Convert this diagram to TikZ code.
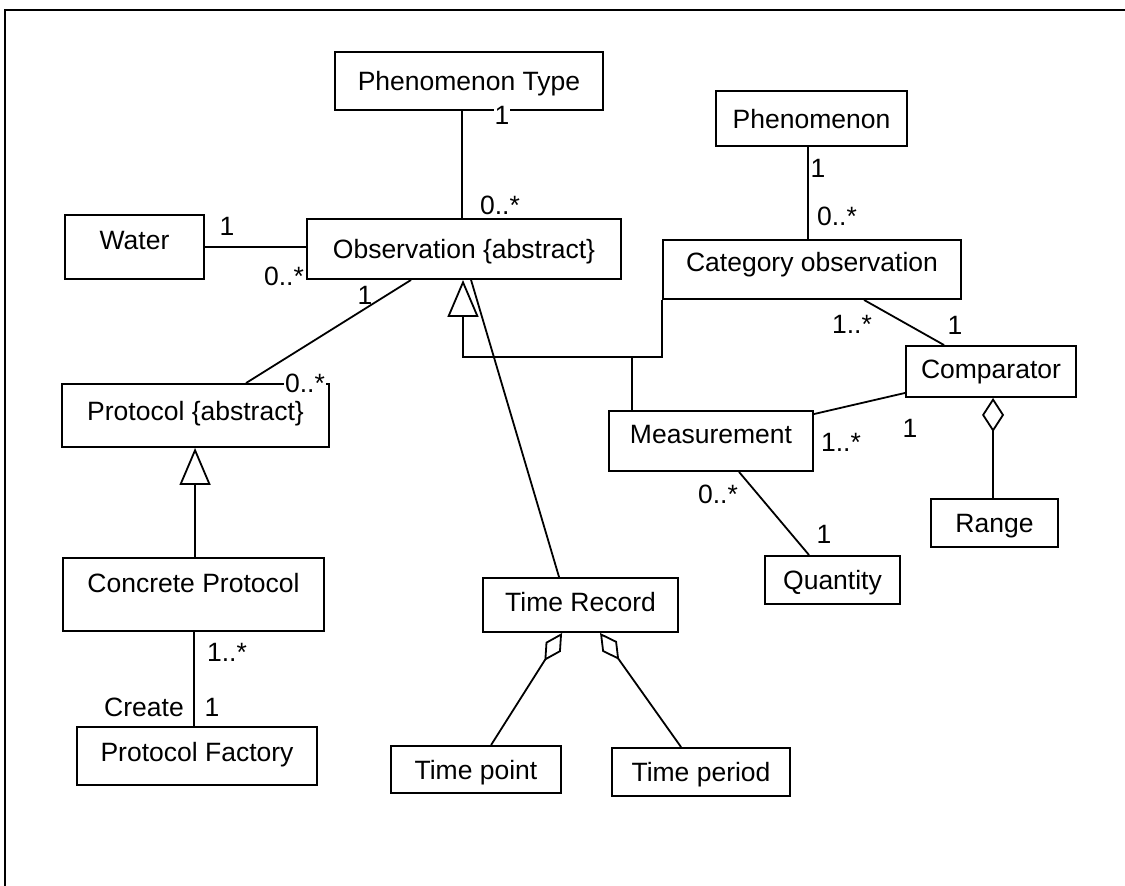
\documentclass[tikz,border=0pt]{standalone}
\usepackage{fontspec}
\setmainfont{Liberation Sans}
\usetikzlibrary{arrows.meta,calc}

\begin{document}
\begin{tikzpicture}[x=1pt,y=-1pt,
  font=\fontsize{26.5}{30}\selectfont,
  umlbox/.style={draw, line width=1.9pt, inner sep=0pt, text height=19pt, text depth=0pt},
  mult/.style={inner sep=1pt, text height=19pt, text depth=0pt},
  assoc/.style={line width=1.8pt},
  gen/.style={line width=1.8pt, -{Triangle[open, length=37pt, width=31pt]}},
  agg/.style={line width=1.8pt, {Diamond[open, length=34pt, width=22pt]}-},
  aggs/.style={line width=1.8pt, {Diamond[open, length=33pt, width=18pt]}-}]

\useasboundingbox (0,0) rectangle (1125,886);

% frame
\draw[line width=2.5pt] (5,886) -- (5,10) -- (1125,10);

% classes
\node[umlbox, minimum width=268pt, minimum height=58pt] (ptype) at (469,81) {Phenomenon Type};
\node[umlbox, minimum width=139pt, minimum height=64pt, text depth=14pt] (water) at (134.5,247) {Water};
\node[umlbox, minimum width=314pt, minimum height=60pt] (obs) at (464,249) {Observation \{abstract\}};
\node[umlbox, minimum width=191pt, minimum height=55pt] (phen) at (811.5,118.5) {Phenomenon};
\node[umlbox, minimum width=298pt, minimum height=59pt, text depth=15pt] (cat) at (812,269.5) {Category observation};
\node[umlbox, minimum width=267pt, minimum height=63pt, text depth=10pt] (proto) at (195.5,415.5) {Protocol \{abstract\}};
\node[umlbox, minimum width=261pt, minimum height=73pt, text depth=23pt] (conc) at (193.5,594.5) {Concrete Protocol};
\node[umlbox, minimum width=240pt, minimum height=58pt, text depth=8pt] (fact) at (197,756) {Protocol Factory};
\node[umlbox, minimum width=195pt, minimum height=54pt, text depth=6pt] (trec) at (580.5,605) {Time Record};
\node[umlbox, minimum width=170pt, minimum height=47pt] (tpoint) at (476,769.5) {Time point};
\node[umlbox, minimum width=178pt, minimum height=48pt] (tperiod) at (701,772) {Time period};
\node[umlbox, minimum width=204pt, minimum height=60pt, text depth=15pt] (meas) at (711,441) {Measurement};
\node[umlbox, minimum width=170pt, minimum height=51pt, text depth=6pt] (comp) at (991,371.5) {Comparator};
\node[umlbox, minimum width=127pt, minimum height=48pt] (range) at (994.5,523) {Range};
\node[umlbox, minimum width=135pt, minimum height=48pt] (quant) at (832.5,580) {Quantity};

% associations
\draw[assoc] ($(ptype.south west)+(128,0)$) coordinate (a1) -- (a1 |- obs.north);
\draw[assoc] (water.east) -- (water.east -| obs.west);
\draw[assoc] ($(obs.south west)+(105,0)$) -- ($(proto.north west)+(185,0)$);
\draw[assoc] ($(conc.south west)+(132,0)$) coordinate (c1) -- (c1 |- fact.north);
\draw[assoc] ($(obs.south west)+(165,0)$) -- ($(trec.north west)+(77,0)$);
\draw[assoc] ($(phen.south west)+(93,0)$) coordinate (p1) -- (p1 |- cat.north);
\draw[assoc] ($(cat.south west)+(202,0)$) -- ($(comp.north west)+(39,0)$);
\draw[assoc] ($(meas.north east)+(0,4)$) -- ($(comp.south west)+(0,-5)$);
\draw[assoc] ($(meas.south west)+(131,0)$) -- ($(quant.north west)+(45,0)$);

% generalizations
\draw[gen] ($(conc.north west)+(133,0)$) coordinate (g1) -- (g1 |- proto.south);
\coordinate (gj) at (463,357);
\draw[gen] (cat.south west) |- (gj) -- (gj |- obs.south);
\draw[assoc] ($(meas.north west)+(24,0)$) coordinate (m1) -- (m1 |- gj);

% aggregations
\draw[aggs] ($(trec.south west)+(80,0)$) -- ($(tpoint.north west)+(101,0)$);
\draw[aggs] ($(trec.south west)+(118,0)$) -- ($(tperiod.north west)+(70,0)$);
\draw[agg] ($(comp.south west)+(88,0)$) coordinate (r1) -- (r1 |- range.north);

% multiplicities
\node[mult, fill=white] (m-pt1) at (502,115) {1};
\node[mult] (m-pt2) at (500,205) {0..*};
\node[mult] (m-w1) at (227,226) {1};
\node[mult] (m-w2) at (284,276) {0..*};
\node[mult] (m-pr1) at (365,295) {1};
\node[mult, fill=white] (m-pr2) at (305,383) {0..*};
\node[mult] (m-cp1) at (227,652) {1..*};
\node[mult] (m-create) at (144,707) {Create};
\node[mult] (m-cp2) at (212,707) {1};
\node[mult] (m-ph1) at (818,168) {1};
\node[mult] (m-ph2) at (837,216) {0..*};
\node[mult] (m-cc1) at (852,324) {1..*};
\node[mult] (m-cc2) at (955,325) {1};
\node[mult] (m-mc1) at (841,442) {1..*};
\node[mult] (m-mc2) at (910,428) {1};
\node[mult] (m-mq1) at (718,494) {0..*};
\node[mult] (m-mq2) at (824,534) {1};
\end{tikzpicture}
\end{document}
